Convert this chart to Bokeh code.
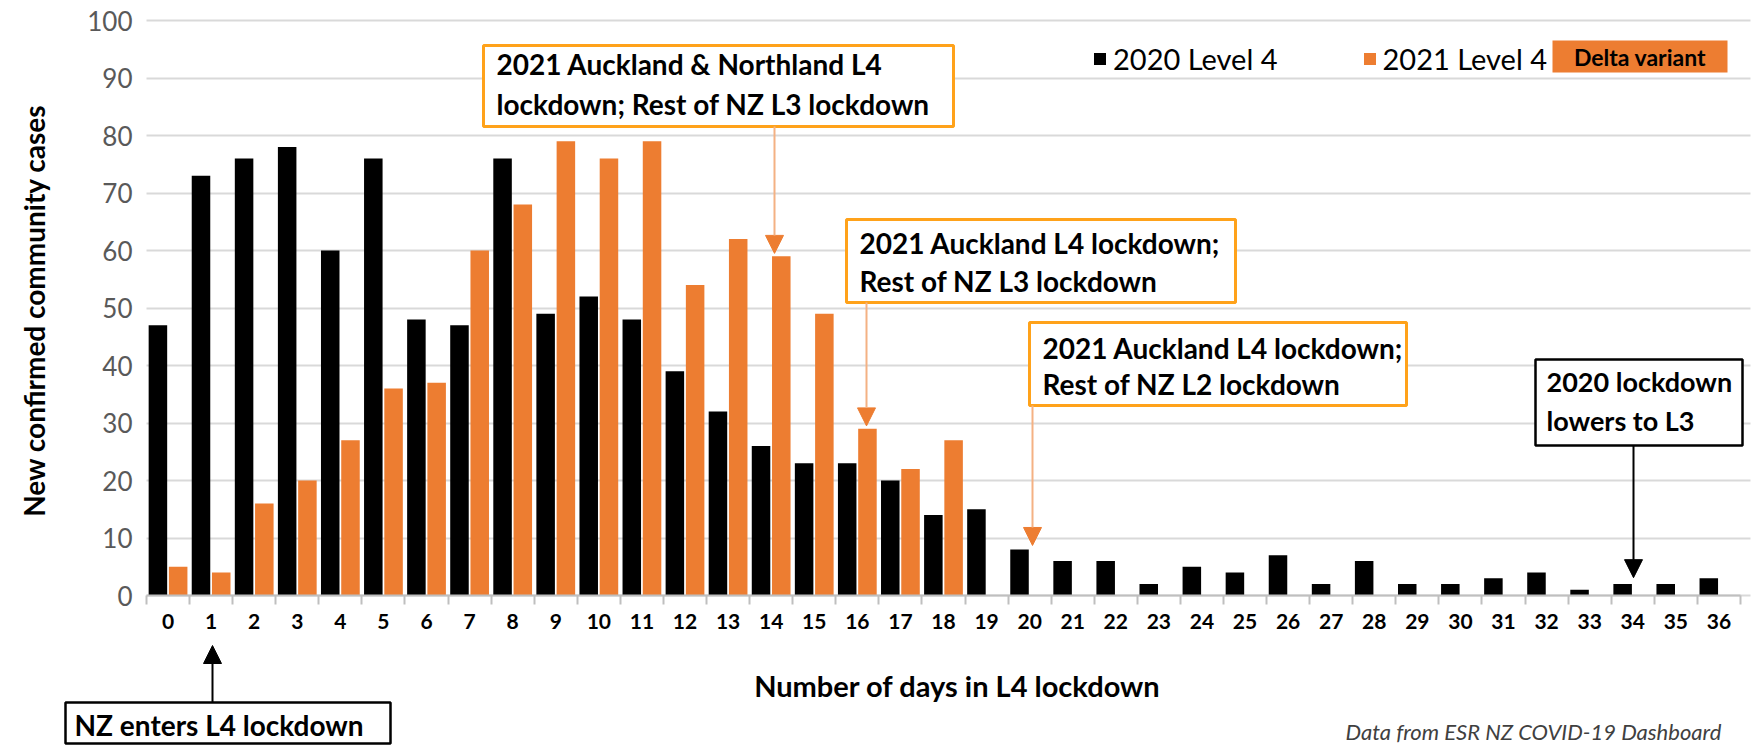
import math
from bokeh.plotting import figure
from bokeh.models import (Range1d, FixedTicker, ColumnDataSource, Label, BoxAnnotation,
                          Arrow, NormalHead, Legend, LegendItem, Grid)
from bokeh.transform import dodge
from bokeh.embed import file_html
from bokeh.resources import INLINE

# ---------------- data ----------------
days = list(range(37))
cases_2020 = [47, 73, 76, 78, 60, 76, 48, 47, 76, 49, 52, 48, 39, 32, 26, 23, 23, 20, 14,
              15, 8, 6, 6, 2, 5, 4, 7, 2, 6, 2, 2, 3, 4, 1, 2, 2, 3]
days_2021 = list(range(19))
cases_2021 = [5, 4, 16, 20, 27, 36, 37, 60, 68, 79, 76, 79, 54, 62, 59, 49, 29, 22, 27]
y_ticks = list(range(0, 101, 10))
series_names = ["2020 Level 4", "2021 Level 4"]
x_title = "Number of days in L4 lockdown"
y_title = "New confirmed community cases"
source_note = "Data from ESR NZ COVID-19 Dashboard"

# ---------------- layout helpers (page pixels -> data) ----------------
W, H = 1752, 746
X_LEFT = 146            # page x of the left edge of day 0
PX_X = 43.08            # pixels per day
Y_ZERO = 595            # page y of 0 cases
PX_Y = 5.75             # pixels per case


def xd(px):
    return -0.5 + (px - X_LEFT) / PX_X


def yd(py):
    return (Y_ZERO - py) / PX_Y


ORANGE = "#ED7D31"
BOX_ORANGE = "#FFA21A"
ARROW_ORANGE = "#F4B183"
FONT = "Lato"

p = figure(width=W, height=H,
           x_range=Range1d(xd(0), xd(W)), y_range=Range1d(yd(H), yd(0)),
           output_backend="svg", toolbar_location=None,
           min_border_left=0, min_border_right=0, min_border_top=0, min_border_bottom=0)
p.outline_line_color = None
p.background_fill_color = "white"

# x axis, drawn at 0 cases
p.xaxis.fixed_location = 0
p.xaxis.bounds = (days[0] - 0.5, days[-1] + 0.5)
p.xaxis.ticker = FixedTicker(ticks=days, minor_ticks=[d - 0.5 for d in days] + [days[-1] + 0.5])
p.xaxis.major_tick_line_color = None
p.xaxis.major_tick_out = 0
p.xaxis.major_tick_in = 0
p.xaxis.minor_tick_out = 9
p.xaxis.minor_tick_in = 0
p.xaxis.minor_tick_line_color = "#bfbfbf"
p.xaxis.minor_tick_line_width = 2
p.xaxis.axis_line_color = "#bfbfbf"
p.xaxis.axis_line_width = 2
p.xaxis.major_label_text_font = FONT
p.xaxis.major_label_text_font_style = "bold"
p.xaxis.major_label_text_font_size = "21px"
p.xaxis.major_label_text_color = "black"
p.xaxis.major_label_standoff = 9
p.xgrid.grid_line_color = None

# y axis, drawn at the left edge of day 0
p.yaxis.fixed_location = days[0] - 0.5
p.yaxis.bounds = (y_ticks[0], y_ticks[-1])
p.yaxis.ticker = FixedTicker(ticks=y_ticks)
p.yaxis.axis_line_color = None
p.yaxis.major_tick_line_color = None
p.yaxis.major_tick_out = 0
p.yaxis.major_tick_in = 0
p.yaxis.minor_tick_line_color = None
p.yaxis.major_label_text_font = FONT
p.yaxis.major_label_text_font_size = "26px"
p.yaxis.major_label_text_color = "#595959"
p.yaxis.major_label_standoff = 14

p.ygrid.ticker = FixedTicker(ticks=y_ticks)
p.ygrid.grid_line_color = "#d9d9d9"
p.ygrid.grid_line_width = 2
if "cross_bounds" in Grid.properties():
    p.ygrid.cross_bounds = (days[0] - 0.5, xd(1750))
    p.ygrid.bounds = (y_ticks[0], y_ticks[-1])
else:
    p.ygrid.grid_line_color = None
    p.segment(x0=days[0] - 0.5, x1=xd(1750), y0=y_ticks, y1=y_ticks,
              line_color="#d9d9d9", line_width=2, level="underlay")

# axis titles
p.add_layout(Label(x=xd(957), y=yd(685), text=x_title, text_align="center",
                   text_baseline="middle", text_font=FONT, text_font_style="bold",
                   text_font_size="29px", text_color="black"))
p.add_layout(Label(x=xd(33), y=yd(310), text=y_title, angle=math.pi / 2, text_align="center",
                   text_baseline="middle", text_font=FONT, text_font_style="bold",
                   text_font_size="28px", text_color="black"))

# bars
src20 = ColumnDataSource(dict(day=days, cases=cases_2020))
src21 = ColumnDataSource(dict(day=days_2021, cases=cases_2021))
r20 = p.vbar(x=dodge("day", -0.235), top="cases", width=0.43, source=src20,
             fill_color="black", line_color=None)
r21 = p.vbar(x=dodge("day", 0.235), top="cases", width=0.43, source=src21,
             fill_color=ORANGE, line_color=None)

# legend
legend = Legend(items=[LegendItem(label=series_names[0], renderers=[r20]),
                       LegendItem(label=series_names[1], renderers=[r21])],
                orientation="horizontal", location=(1092, 670),
                glyph_width=15, glyph_height=15, label_standoff=6, spacing=84,
                padding=0, margin=0, border_line_color=None, background_fill_alpha=0,
                label_text_font=FONT, label_text_font_size="29px", label_text_color="black")
p.add_layout(legend)

# "Delta variant" tag
p.add_layout(BoxAnnotation(left=xd(1552), right=xd(1727), top=yd(40), bottom=yd(72),
                           fill_color=ORANGE, fill_alpha=1, line_color=None))
p.add_layout(Label(x=xd((1552 + 1727) / 2), y=yd((40 + 72) / 2), text="Delta variant",
                   text_align="center", text_baseline="middle", text_font=FONT,
                   text_font_style="bold", text_font_size="23px", text_color="black"))

# annotation boxes: (left, right, top, bottom, colour, width, lines, text-left, line centres, font)
boxes = [
    (483, 953, 45, 126, BOX_ORANGE, 3, ["2021 Auckland & Northland L4", "lockdown; Rest of NZ L3 lockdown"], 496, [63, 103], "28px"),
    (846, 1235, 219, 302, BOX_ORANGE, 3, ["2021 Auckland L4 lockdown;", "Rest of NZ L3 lockdown"], 859, [242, 280], "28px"),
    (1029, 1406, 322, 405, BOX_ORANGE, 3, ["2021 Auckland L4 lockdown;", "Rest of NZ L2 lockdown"], 1042, [347, 383], "28px"),
    (1535, 1742, 359, 445, "black", 2.5, ["2020 lockdown", "lowers to L3"], 1546, [381, 420], "27px"),
    (65, 390, 702, 743, "black", 2.5, ["NZ enters L4 lockdown"], 74, [724], "28px"),
]
for left, right, top, bottom, col, lw, lines, tx, centres, fs in boxes:
    p.add_layout(BoxAnnotation(left=xd(left), right=xd(right), top=yd(top), bottom=yd(bottom),
                               fill_color="white", fill_alpha=1, line_color=col, line_alpha=1,
                               line_width=lw))
    for ln, c in zip(lines, centres):
        p.add_layout(Label(x=xd(tx), y=yd(c), text=ln, text_align="left",
                           text_baseline="middle", text_font=FONT, text_font_style="bold",
                           text_font_size=fs, text_color="black"))

# arrows: (x in data, start y in data, end y in data, line colour, head colour)
arrows = [
    (xd(774), yd(126), cases_2021[14] + 0.5, ARROW_ORANGE, ORANGE),
    (xd(866), yd(302), cases_2021[16] + 0.5, ARROW_ORANGE, ORANGE),
    (xd(1032), yd(405), cases_2020[20] + 0.7, ARROW_ORANGE, ORANGE),
    (xd(1633), yd(445), cases_2020[34] + 1.1, "black", "black"),
    (xd(212), yd(702), yd(645), "black", "black"),
]
for ax, y0, y1, lc, hc in arrows:
    p.add_layout(Arrow(end=NormalHead(size=18, fill_color=hc, line_color=hc),
                       x_start=ax, y_start=y0, x_end=ax, y_end=y1,
                       line_color=lc, line_width=2))

# source note
p.add_layout(Label(x=xd(1345), y=yd(744), text=source_note,
                   text_align="left", text_baseline="bottom", text_font=FONT,
                   text_font_style="italic", text_font_size="22px", text_color="#404040"))

open("out.html", "w").write(file_html(p, INLINE))
